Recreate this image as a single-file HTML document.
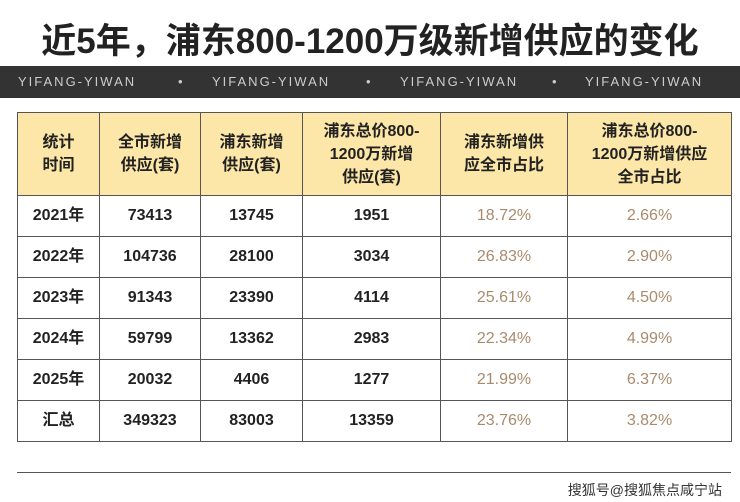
<!DOCTYPE html><html><head><meta charset="utf-8"><style>
body{margin:0;width:740px;height:502px;background:#fff;position:relative;overflow:hidden;font-family:"Liberation Sans","Noto Sans CJK SC",sans-serif}
.t{position:absolute;top:13px;left:0;width:740px;text-align:center;font-size:35px;font-weight:bold;color:#222}
.band{position:absolute;top:66px;left:0;width:740px;height:32px;background:#333;color:#ccc;font-size:13px;letter-spacing:2px;line-height:32px}
.band span{position:absolute}
table{position:absolute;top:112px;left:17px;width:714px;border-collapse:collapse;table-layout:fixed}
td{border:1px solid #555;text-align:center;font-weight:bold;font-size:16px;line-height:18px;color:#222;height:40px;padding:0;vertical-align:middle}
tr.h td{background:#fce7a8;height:82px;font-size:16px;line-height:23px}
td.p{color:#a98b6c;font-weight:normal}
.line{position:absolute;top:472px;left:17px;width:714px;height:1px;background:#555}
.f{position:absolute;top:480px;right:18px;font-size:14px;color:#333}
</style></head><body>
<div class="t">近5年，浦东800-1200万级新增供应的变化</div>
<div class="band"><span style="left:18px">YIFANG-YIWAN</span><span style="left:178px">•</span><span style="left:212px">YIFANG-YIWAN</span><span style="left:366px">•</span><span style="left:400px">YIFANG-YIWAN</span><span style="left:552px">•</span><span style="left:585px">YIFANG-YIWAN</span></div>
<table>
<colgroup><col style="width:82px"><col style="width:101px"><col style="width:102px"><col style="width:138px"><col style="width:127px"><col style="width:164px"></colgroup>
<tr class="h"><td>统计<br>时间</td><td>全市新增<br>供应(套)</td><td>浦东新增<br>供应(套)</td><td>浦东总价800-<br>1200万新增<br>供应(套)</td><td>浦东新增供<br>应全市占比</td><td>浦东总价800-<br>1200万新增供应<br>全市占比</td></tr>
<tr><td>2021年</td><td>73413</td><td>13745</td><td>1951</td><td class="p">18.72%</td><td class="p">2.66%</td></tr>
<tr><td>2022年</td><td>104736</td><td>28100</td><td>3034</td><td class="p">26.83%</td><td class="p">2.90%</td></tr>
<tr><td>2023年</td><td>91343</td><td>23390</td><td>4114</td><td class="p">25.61%</td><td class="p">4.50%</td></tr>
<tr><td>2024年</td><td>59799</td><td>13362</td><td>2983</td><td class="p">22.34%</td><td class="p">4.99%</td></tr>
<tr><td>2025年</td><td>20032</td><td>4406</td><td>1277</td><td class="p">21.99%</td><td class="p">6.37%</td></tr>
<tr><td>汇总</td><td>349323</td><td>83003</td><td>13359</td><td class="p">23.76%</td><td class="p">3.82%</td></tr>
</table>
<div class="line"></div>
<div class="f">搜狐号@搜狐焦点咸宁站</div>
</body></html>
